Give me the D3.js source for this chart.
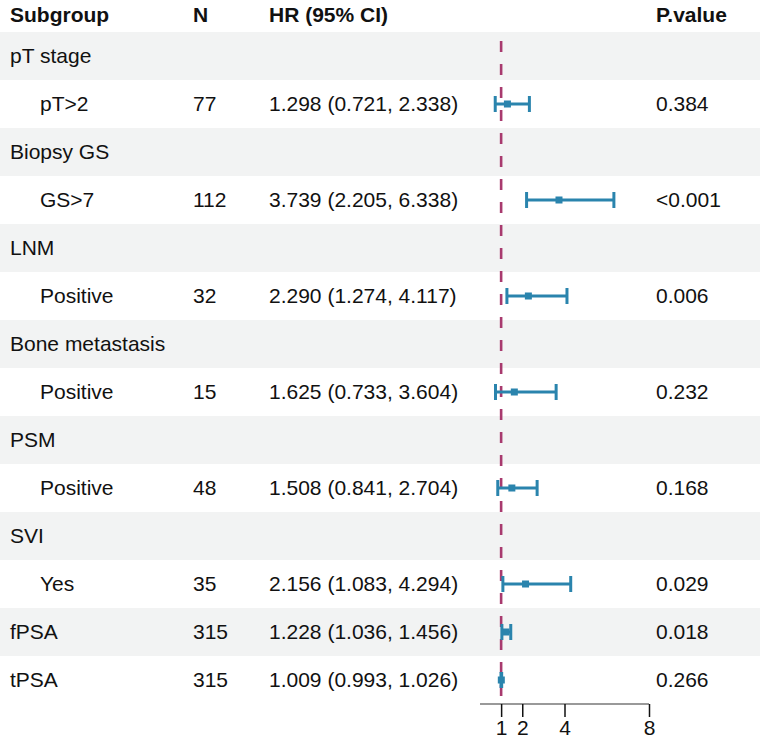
<!DOCTYPE html>
<html>
<head>
<meta charset="utf-8">
<script src="https://cdn.jsdelivr.net/npm/d3@7"></script>
<style>
  html, body { margin: 0; padding: 0; background: #fff; }
  svg { display: block; font-family: "Liberation Sans", Arial, sans-serif; }
</style>
</head>
<body>
<svg id="chart" width="760" height="739"></svg>
<script>
// ---- data ----
const subgroups = ["pT stage", "pT>2", "Biopsy GS", "GS>7", "LNM", "Positive",
  "Bone metastasis", "Positive", "PSM", "Positive", "SVI", "Yes", "fPSA", "tPSA"];
const indented = [false, true, false, true, false, true, false, true, false, true, false, true, false, false];
const nValues = ["", "77", "", "112", "", "32", "", "15", "", "48", "", "35", "315", "315"];
const hrValues = [null, 1.298, null, 3.739, null, 2.290, null, 1.625, null, 1.508, null, 2.156, 1.228, 1.009];
const lowerCI = [null, 0.721, null, 2.205, null, 1.274, null, 0.733, null, 0.841, null, 1.083, 1.036, 0.993];
const upperCI = [null, 2.338, null, 6.338, null, 4.117, null, 3.604, null, 2.704, null, 4.294, 1.456, 1.026];
const pValues = ["", "0.384", "", "<0.001", "", "0.006", "", "0.232", "", "0.168", "", "0.029", "0.018", "0.266"];
const headers = ["Subgroup", "N", "HR (95% CI)", "P.value"];
const axisTicks = [1, 2, 4, 8];
const refValue = 1;

// ---- layout ----
const W = 760, H = 739;
const svg = d3.select("#chart");
const fontSize = 21;
const blue = "#2a84ad";
const magenta = "#a83a6e";
const shade = "#f2f3f3";

const y = d3.scaleBand().domain(d3.range(subgroups.length)).range([32, 704]).padding(0);
const x = d3.scaleLinear().domain([0, 8]).range([480, 649]);

const colX = { sub: 10, subIndent: 40, n: 193, hr: 269, p: 656 };
const fmt = d3.format(".3f");

// shaded bands
svg.append("g").selectAll("rect")
  .data(d3.range(subgroups.length).filter(i => i % 2 === 0))
  .join("rect")
  .attr("x", 0).attr("width", W)
  .attr("y", i => y(i)).attr("height", y.bandwidth())
  .attr("fill", shade);

// headers
const hx = [colX.sub, colX.n, colX.hr, colX.p];
svg.append("g").selectAll("text").data(headers).join("text")
  .attr("x", (d, i) => hx[i]).attr("y", 22)
  .attr("font-size", fontSize).attr("font-weight", "bold").attr("fill", "#111")
  .text(d => d);

// row text
const rows = svg.append("g").selectAll("g").data(d3.range(subgroups.length)).join("g")
  .attr("transform", i => `translate(0,${y(i) + y.bandwidth() / 2})`);

rows.append("text")
  .attr("x", i => indented[i] ? colX.subIndent : colX.sub)
  .attr("dy", "0.35em").attr("font-size", fontSize).attr("fill", "#111")
  .text(i => subgroups[i]);
rows.append("text")
  .attr("x", colX.n).attr("dy", "0.35em").attr("font-size", fontSize).attr("fill", "#111")
  .text(i => nValues[i]);
rows.append("text")
  .attr("x", colX.hr).attr("dy", "0.35em").attr("font-size", fontSize).attr("fill", "#111")
  .text(i => hrValues[i] == null ? "" : `${fmt(hrValues[i])} (${fmt(lowerCI[i])}, ${fmt(upperCI[i])})`);
rows.append("text")
  .attr("x", colX.p).attr("dy", "0.35em").attr("font-size", fontSize).attr("fill", "#111")
  .text(i => pValues[i]);

// axis
const axisY = 704;
const axisG = svg.append("g").attr("transform", `translate(0,${axisY})`)
  .call(d3.axisBottom(x).tickValues(axisTicks).tickSize(13).tickPadding(3).tickFormat(d3.format("d")));
axisG.select(".domain").attr("stroke", "#777").attr("stroke-width", 1.5)
  .attr("d", `M${x(0)},0H${x(8)}`);
axisG.selectAll(".tick line").attr("stroke", "#111").attr("stroke-width", 1.5);
axisG.selectAll(".tick text").attr("font-size", fontSize).attr("fill", "#111")
  .attr("font-family", "Liberation Sans, Arial, sans-serif").attr("dy", "0.71em");

// reference dashed line
svg.append("line")
  .attr("x1", x(refValue)).attr("x2", x(refValue))
  .attr("y1", 41).attr("y2", axisY)
  .attr("stroke", magenta).attr("stroke-width", 2.6)
  .attr("stroke-dasharray", "11,12");

// CIs
const ciIdx = d3.range(subgroups.length).filter(i => hrValues[i] != null);
const ci = svg.append("g").selectAll("g").data(ciIdx).join("g")
  .attr("transform", i => `translate(0,${y(i) + y.bandwidth() / 2})`);
const capH = 8;
ci.append("line").attr("x1", i => x(lowerCI[i])).attr("x2", i => x(upperCI[i]))
  .attr("stroke", blue).attr("stroke-width", 3);
ci.append("line").attr("x1", i => x(lowerCI[i])).attr("x2", i => x(lowerCI[i]))
  .attr("y1", -capH).attr("y2", capH).attr("stroke", blue).attr("stroke-width", 3);
ci.append("line").attr("x1", i => x(upperCI[i])).attr("x2", i => x(upperCI[i]))
  .attr("y1", -capH).attr("y2", capH).attr("stroke", blue).attr("stroke-width", 3);
ci.append("rect").attr("x", i => x(hrValues[i]) - 3.5).attr("y", -3.5)
  .attr("width", 7).attr("height", 7).attr("fill", blue);
</script>
</body>
</html>
